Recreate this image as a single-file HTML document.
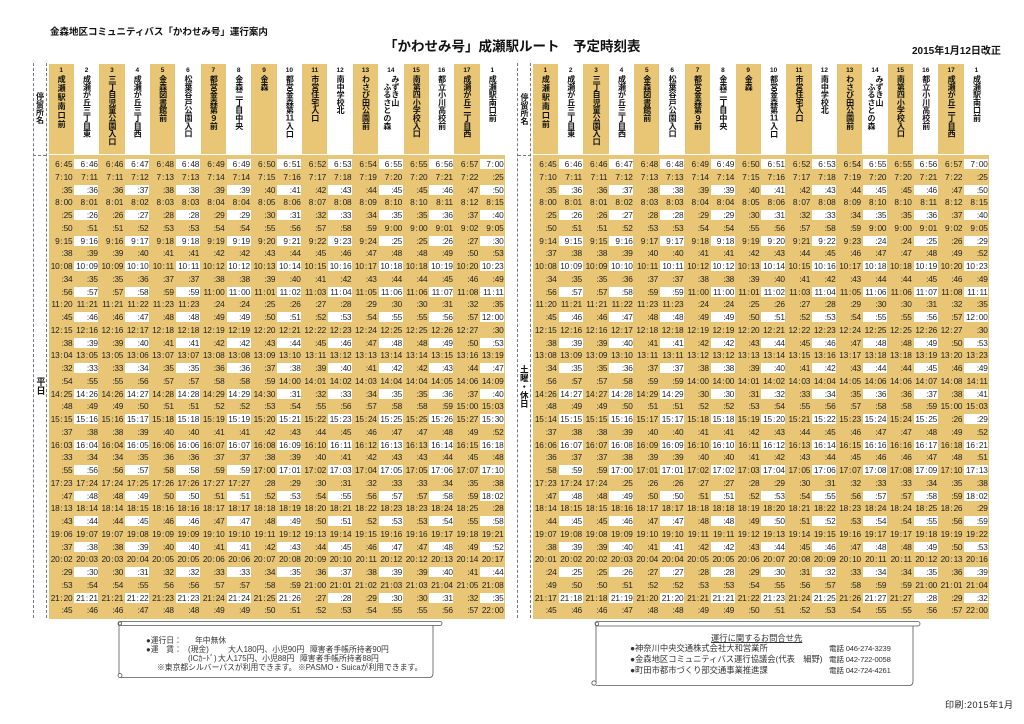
<!DOCTYPE html>
<html><head><meta charset="utf-8">
<style>
*{margin:0;padding:0;box-sizing:border-box}
html,body{width:1024px;height:724px;overflow:hidden;background:#fff}
body{position:relative;font-family:"Liberation Sans","Noto Sans CJK JP",sans-serif;color:#111}
.a{position:absolute;white-space:nowrap;line-height:1}
.h{position:absolute;top:64px;height:90px;width:456.5px;display:flex}
.h div{width:25.36px;flex:none;height:90px;display:flex;flex-direction:column;align-items:center}
.h div:nth-child(odd){background:#E8C676}
.h em{font-style:normal;font-weight:bold;font-size:6.5px;line-height:7px;margin-top:2.5px}
.h b{writing-mode:vertical-rl;font-size:8px;line-height:8px;letter-spacing:-.2px;margin-top:1.5px;white-space:nowrap}
.h .w{letter-spacing:1px}
.tcy{text-combine-upright:all}
.t{position:absolute;top:155px;height:463.5px;width:456.5px;background:#E8C676;padding-top:3px}
.t p{display:flex;height:12.76px}
.t i{font-style:normal;width:25.36px;flex:none;text-align:right;padding-right:1.5px;font-size:8.3px;line-height:12.76px;letter-spacing:-.25px;word-spacing:-1px;color:#222;white-space:nowrap}
.t p:nth-child(odd) i:nth-child(even){background:linear-gradient(#fff,#fff) center/24.4px 10.2px no-repeat}
.lab{position:absolute;top:63px;height:555px;border-left:1px dashed #777;border-right:1px dashed #777}
.v{position:absolute;writing-mode:vertical-rl;font-weight:bold;line-height:1;white-space:nowrap}
.n{font-size:7.8px;color:#333}
.r{font-size:8.3px;color:#333}
.ph{font-size:7.6px;color:#333;letter-spacing:-.2px}
</style></head><body>

<div class="a" style="left:50px;top:27.5px;font-size:9.5px;font-weight:bold">金森地区コミュニティバス「かわせみ号」運行案内</div>
<div class="a" style="left:384px;top:40px;font-size:13.5px;font-weight:bold">「かわせみ号」成瀬駅ルート　予定時刻表</div>
<div class="a" style="left:912px;top:47px;font-size:10px;font-weight:bold">2015年1月12日改正</div>

<!-- label columns -->
<div class="lab" style="left:32.5px;width:14px"></div>
<div class="a" style="left:33px;top:155px;width:13px;border-top:1px dashed #777"></div>
<div class="v" style="left:35.5px;top:92px;font-size:8px">停留所名</div>
<div class="v" style="left:35.5px;top:377px;font-size:9px">平日</div>

<div class="lab" style="left:517px;width:14px"></div>
<div class="a" style="left:517.5px;top:155px;width:13px;border-top:1px dashed #777"></div>
<div class="v" style="left:520px;top:93px;font-size:8px">停留所名</div>
<div class="v" style="left:519.7px;top:365px;font-size:8.6px">土曜・休日</div>

<!-- headers -->
<div class="h" style="left:48.5px">
<div><em>1</em><b class="w">成瀬駅南口前</b></div>
<div><em>2</em><b>成瀬が丘三丁目東</b></div>
<div><em>3</em><b>三丁目児童公園入口</b></div>
<div><em>4</em><b>成瀬が丘三丁目西</b></div>
<div><em>5</em><b>金森図書館前</b></div>
<div><em>6</em><b>松葉谷戸公園入口</b></div>
<div><em>7</em><b>都営金森第９前</b></div>
<div><em>8</em><b>金森二丁目中央</b></div>
<div><em>9</em><b>金森</b></div>
<div><em>10</em><b>都営金森第<span class="tcy">11</span>入口</b></div>
<div><em>11</em><b>市営住宅入口</b></div>
<div><em>12</em><b>南中学校北</b></div>
<div><em>13</em><b>わさび田公園前</b></div>
<div><em>14</em><b>みずき山<br>　ふるさとの森</b></div>
<div><em>15</em><b>南第四小学校入口</b></div>
<div><em>16</em><b>都立小川高校前</b></div>
<div><em>17</em><b>成瀬が丘二丁目西</b></div>
<div><em>1</em><b>成瀬駅南口前</b></div>
</div>

<div class="h" style="left:532.7px">
<div><em>1</em><b class="w">成瀬駅南口前</b></div>
<div><em>2</em><b>成瀬が丘三丁目東</b></div>
<div><em>3</em><b>三丁目児童公園入口</b></div>
<div><em>4</em><b>成瀬が丘三丁目西</b></div>
<div><em>5</em><b>金森図書館前</b></div>
<div><em>6</em><b>松葉谷戸公園入口</b></div>
<div><em>7</em><b>都営金森第９前</b></div>
<div><em>8</em><b>金森二丁目中央</b></div>
<div><em>9</em><b>金森</b></div>
<div><em>10</em><b>都営金森第<span class="tcy">11</span>入口</b></div>
<div><em>11</em><b>市営住宅入口</b></div>
<div><em>12</em><b>南中学校北</b></div>
<div><em>13</em><b>わさび田公園前</b></div>
<div><em>14</em><b>みずき山<br>　ふるさとの森</b></div>
<div><em>15</em><b>南第四小学校入口</b></div>
<div><em>16</em><b>都立小川高校前</b></div>
<div><em>17</em><b>成瀬が丘二丁目西</b></div>
<div><em>1</em><b>成瀬駅南口前</b></div>
</div>

<!-- weekday table -->
<div class="t" style="left:48.5px">
<p><i>6 : 45</i><i>6 : 46</i><i>6 : 46</i><i>6 : 47</i><i>6 : 48</i><i>6 : 48</i><i>6 : 49</i><i>6 : 49</i><i>6 : 50</i><i>6 : 51</i><i>6 : 52</i><i>6 : 53</i><i>6 : 54</i><i>6 : 55</i><i>6 : 55</i><i>6 : 56</i><i>6 : 57</i><i>7 : 00</i></p>
<p><i>7 : 10</i><i>7 : 11</i><i>7 : 11</i><i>7 : 12</i><i>7 : 13</i><i>7 : 13</i><i>7 : 14</i><i>7 : 14</i><i>7 : 15</i><i>7 : 16</i><i>7 : 17</i><i>7 : 18</i><i>7 : 19</i><i>7 : 20</i><i>7 : 20</i><i>7 : 21</i><i>7 : 22</i><i>:25</i></p>
<p><i>:35</i><i>:36</i><i>:36</i><i>:37</i><i>:38</i><i>:38</i><i>:39</i><i>:39</i><i>:40</i><i>:41</i><i>:42</i><i>:43</i><i>:44</i><i>:45</i><i>:45</i><i>:46</i><i>:47</i><i>:50</i></p>
<p><i>8 : 00</i><i>8 : 01</i><i>8 : 01</i><i>8 : 02</i><i>8 : 03</i><i>8 : 03</i><i>8 : 04</i><i>8 : 04</i><i>8 : 05</i><i>8 : 06</i><i>8 : 07</i><i>8 : 08</i><i>8 : 09</i><i>8 : 10</i><i>8 : 10</i><i>8 : 11</i><i>8 : 12</i><i>8 : 15</i></p>
<p><i>:25</i><i>:26</i><i>:26</i><i>:27</i><i>:28</i><i>:28</i><i>:29</i><i>:29</i><i>:30</i><i>:31</i><i>:32</i><i>:33</i><i>:34</i><i>:35</i><i>:35</i><i>:36</i><i>:37</i><i>:40</i></p>
<p><i>:50</i><i>:51</i><i>:51</i><i>:52</i><i>:53</i><i>:53</i><i>:54</i><i>:54</i><i>:55</i><i>:56</i><i>:57</i><i>:58</i><i>:59</i><i>9 : 00</i><i>9 : 00</i><i>9 : 01</i><i>9 : 02</i><i>9 : 05</i></p>
<p><i>9 : 15</i><i>9 : 16</i><i>9 : 16</i><i>9 : 17</i><i>9 : 18</i><i>9 : 18</i><i>9 : 19</i><i>9 : 19</i><i>9 : 20</i><i>9 : 21</i><i>9 : 22</i><i>9 : 23</i><i>9 : 24</i><i>:25</i><i>:25</i><i>:26</i><i>:27</i><i>:30</i></p>
<p><i>:38</i><i>:39</i><i>:39</i><i>:40</i><i>:41</i><i>:41</i><i>:42</i><i>:42</i><i>:43</i><i>:44</i><i>:45</i><i>:46</i><i>:47</i><i>:48</i><i>:48</i><i>:49</i><i>:50</i><i>:53</i></p>
<p><i>10 : 08</i><i>10 : 09</i><i>10 : 09</i><i>10 : 10</i><i>10 : 11</i><i>10 : 11</i><i>10 : 12</i><i>10 : 12</i><i>10 : 13</i><i>10 : 14</i><i>10 : 15</i><i>10 : 16</i><i>10 : 17</i><i>10 : 18</i><i>10 : 18</i><i>10 : 19</i><i>10 : 20</i><i>10 : 23</i></p>
<p><i>:34</i><i>:35</i><i>:35</i><i>:36</i><i>:37</i><i>:37</i><i>:38</i><i>:38</i><i>:39</i><i>:40</i><i>:41</i><i>:42</i><i>:43</i><i>:44</i><i>:44</i><i>:45</i><i>:46</i><i>:49</i></p>
<p><i>:56</i><i>:57</i><i>:57</i><i>:58</i><i>:59</i><i>:59</i><i>11 : 00</i><i>11 : 00</i><i>11 : 01</i><i>11 : 02</i><i>11 : 03</i><i>11 : 04</i><i>11 : 05</i><i>11 : 06</i><i>11 : 06</i><i>11 : 07</i><i>11 : 08</i><i>11 : 11</i></p>
<p><i>11 : 20</i><i>11 : 21</i><i>11 : 21</i><i>11 : 22</i><i>11 : 23</i><i>11 : 23</i><i>:24</i><i>:24</i><i>:25</i><i>:26</i><i>:27</i><i>:28</i><i>:29</i><i>:30</i><i>:30</i><i>:31</i><i>:32</i><i>:35</i></p>
<p><i>:45</i><i>:46</i><i>:46</i><i>:47</i><i>:48</i><i>:48</i><i>:49</i><i>:49</i><i>:50</i><i>:51</i><i>:52</i><i>:53</i><i>:54</i><i>:55</i><i>:55</i><i>:56</i><i>:57</i><i>12 : 00</i></p>
<p><i>12 : 15</i><i>12 : 16</i><i>12 : 16</i><i>12 : 17</i><i>12 : 18</i><i>12 : 18</i><i>12 : 19</i><i>12 : 19</i><i>12 : 20</i><i>12 : 21</i><i>12 : 22</i><i>12 : 23</i><i>12 : 24</i><i>12 : 25</i><i>12 : 25</i><i>12 : 26</i><i>12 : 27</i><i>:30</i></p>
<p><i>:38</i><i>:39</i><i>:39</i><i>:40</i><i>:41</i><i>:41</i><i>:42</i><i>:42</i><i>:43</i><i>:44</i><i>:45</i><i>:46</i><i>:47</i><i>:48</i><i>:48</i><i>:49</i><i>:50</i><i>:53</i></p>
<p><i>13 : 04</i><i>13 : 05</i><i>13 : 05</i><i>13 : 06</i><i>13 : 07</i><i>13 : 07</i><i>13 : 08</i><i>13 : 08</i><i>13 : 09</i><i>13 : 10</i><i>13 : 11</i><i>13 : 12</i><i>13 : 13</i><i>13 : 14</i><i>13 : 14</i><i>13 : 15</i><i>13 : 16</i><i>13 : 19</i></p>
<p><i>:32</i><i>:33</i><i>:33</i><i>:34</i><i>:35</i><i>:35</i><i>:36</i><i>:36</i><i>:37</i><i>:38</i><i>:39</i><i>:40</i><i>:41</i><i>:42</i><i>:42</i><i>:43</i><i>:44</i><i>:47</i></p>
<p><i>:54</i><i>:55</i><i>:55</i><i>:56</i><i>:57</i><i>:57</i><i>:58</i><i>:58</i><i>:59</i><i>14 : 00</i><i>14 : 01</i><i>14 : 02</i><i>14 : 03</i><i>14 : 04</i><i>14 : 04</i><i>14 : 05</i><i>14 : 06</i><i>14 : 09</i></p>
<p><i>14 : 25</i><i>14 : 26</i><i>14 : 26</i><i>14 : 27</i><i>14 : 28</i><i>14 : 28</i><i>14 : 29</i><i>14 : 29</i><i>14 : 30</i><i>:31</i><i>:32</i><i>:33</i><i>:34</i><i>:35</i><i>:35</i><i>:36</i><i>:37</i><i>:40</i></p>
<p><i>:48</i><i>:49</i><i>:49</i><i>:50</i><i>:51</i><i>:51</i><i>:52</i><i>:52</i><i>:53</i><i>:54</i><i>:55</i><i>:56</i><i>:57</i><i>:58</i><i>:58</i><i>:59</i><i>15 : 00</i><i>15 : 03</i></p>
<p><i>15 : 15</i><i>15 : 16</i><i>15 : 16</i><i>15 : 17</i><i>15 : 18</i><i>15 : 18</i><i>15 : 19</i><i>15 : 19</i><i>15 : 20</i><i>15 : 21</i><i>15 : 22</i><i>15 : 23</i><i>15 : 24</i><i>15 : 25</i><i>15 : 25</i><i>15 : 26</i><i>15 : 27</i><i>15 : 30</i></p>
<p><i>:37</i><i>:38</i><i>:38</i><i>:39</i><i>:40</i><i>:40</i><i>:41</i><i>:41</i><i>:42</i><i>:43</i><i>:44</i><i>:45</i><i>:46</i><i>:47</i><i>:47</i><i>:48</i><i>:49</i><i>:52</i></p>
<p><i>16 : 03</i><i>16 : 04</i><i>16 : 04</i><i>16 : 05</i><i>16 : 06</i><i>16 : 06</i><i>16 : 07</i><i>16 : 07</i><i>16 : 08</i><i>16 : 09</i><i>16 : 10</i><i>16 : 11</i><i>16 : 12</i><i>16 : 13</i><i>16 : 13</i><i>16 : 14</i><i>16 : 15</i><i>16 : 18</i></p>
<p><i>:33</i><i>:34</i><i>:34</i><i>:35</i><i>:36</i><i>:36</i><i>:37</i><i>:37</i><i>:38</i><i>:39</i><i>:40</i><i>:41</i><i>:42</i><i>:43</i><i>:43</i><i>:44</i><i>:45</i><i>:48</i></p>
<p><i>:55</i><i>:56</i><i>:56</i><i>:57</i><i>:58</i><i>:58</i><i>:59</i><i>:59</i><i>17 : 00</i><i>17 : 01</i><i>17 : 02</i><i>17 : 03</i><i>17 : 04</i><i>17 : 05</i><i>17 : 05</i><i>17 : 06</i><i>17 : 07</i><i>17 : 10</i></p>
<p><i>17 : 23</i><i>17 : 24</i><i>17 : 24</i><i>17 : 25</i><i>17 : 26</i><i>17 : 26</i><i>17 : 27</i><i>17 : 27</i><i>:28</i><i>:29</i><i>:30</i><i>:31</i><i>:32</i><i>:33</i><i>:33</i><i>:34</i><i>:35</i><i>:38</i></p>
<p><i>:47</i><i>:48</i><i>:48</i><i>:49</i><i>:50</i><i>:50</i><i>:51</i><i>:51</i><i>:52</i><i>:53</i><i>:54</i><i>:55</i><i>:56</i><i>:57</i><i>:57</i><i>:58</i><i>:59</i><i>18 : 02</i></p>
<p><i>18 : 13</i><i>18 : 14</i><i>18 : 14</i><i>18 : 15</i><i>18 : 16</i><i>18 : 16</i><i>18 : 17</i><i>18 : 17</i><i>18 : 18</i><i>18 : 19</i><i>18 : 20</i><i>18 : 21</i><i>18 : 22</i><i>18 : 23</i><i>18 : 23</i><i>18 : 24</i><i>18 : 25</i><i>:28</i></p>
<p><i>:43</i><i>:44</i><i>:44</i><i>:45</i><i>:46</i><i>:46</i><i>:47</i><i>:47</i><i>:48</i><i>:49</i><i>:50</i><i>:51</i><i>:52</i><i>:53</i><i>:53</i><i>:54</i><i>:55</i><i>:58</i></p>
<p><i>19 : 06</i><i>19 : 07</i><i>19 : 07</i><i>19 : 08</i><i>19 : 09</i><i>19 : 09</i><i>19 : 10</i><i>19 : 10</i><i>19 : 11</i><i>19 : 12</i><i>19 : 13</i><i>19 : 14</i><i>19 : 15</i><i>19 : 16</i><i>19 : 16</i><i>19 : 17</i><i>19 : 18</i><i>19 : 21</i></p>
<p><i>:37</i><i>:38</i><i>:38</i><i>:39</i><i>:40</i><i>:40</i><i>:41</i><i>:41</i><i>:42</i><i>:43</i><i>:44</i><i>:45</i><i>:46</i><i>:47</i><i>:47</i><i>:48</i><i>:49</i><i>:52</i></p>
<p><i>20 : 02</i><i>20 : 03</i><i>20 : 03</i><i>20 : 04</i><i>20 : 05</i><i>20 : 05</i><i>20 : 06</i><i>20 : 06</i><i>20 : 07</i><i>20 : 08</i><i>20 : 09</i><i>20 : 10</i><i>20 : 11</i><i>20 : 12</i><i>20 : 12</i><i>20 : 13</i><i>20 : 14</i><i>20 : 17</i></p>
<p><i>:29</i><i>:30</i><i>:30</i><i>:31</i><i>:32</i><i>:32</i><i>:33</i><i>:33</i><i>:34</i><i>:35</i><i>:36</i><i>:37</i><i>:38</i><i>:39</i><i>:39</i><i>:40</i><i>:41</i><i>:44</i></p>
<p><i>:53</i><i>:54</i><i>:54</i><i>:55</i><i>:56</i><i>:56</i><i>:57</i><i>:57</i><i>:58</i><i>:59</i><i>21 : 00</i><i>21 : 01</i><i>21 : 02</i><i>21 : 03</i><i>21 : 03</i><i>21 : 04</i><i>21 : 05</i><i>21 : 08</i></p>
<p><i>21 : 20</i><i>21 : 21</i><i>21 : 21</i><i>21 : 22</i><i>21 : 23</i><i>21 : 23</i><i>21 : 24</i><i>21 : 24</i><i>21 : 25</i><i>21 : 26</i><i>:27</i><i>:28</i><i>:29</i><i>:30</i><i>:30</i><i>:31</i><i>:32</i><i>:35</i></p>
<p><i>:45</i><i>:46</i><i>:46</i><i>:47</i><i>:48</i><i>:48</i><i>:49</i><i>:49</i><i>:50</i><i>:51</i><i>:52</i><i>:53</i><i>:54</i><i>:55</i><i>:55</i><i>:56</i><i>:57</i><i>22 : 00</i></p>
</div>

<!-- weekend table -->
<div class="t" style="left:532.7px">
<p><i>6 : 45</i><i>6 : 46</i><i>6 : 46</i><i>6 : 47</i><i>6 : 48</i><i>6 : 48</i><i>6 : 49</i><i>6 : 49</i><i>6 : 50</i><i>6 : 51</i><i>6 : 52</i><i>6 : 53</i><i>6 : 54</i><i>6 : 55</i><i>6 : 55</i><i>6 : 56</i><i>6 : 57</i><i>7 : 00</i></p>
<p><i>7 : 10</i><i>7 : 11</i><i>7 : 11</i><i>7 : 12</i><i>7 : 13</i><i>7 : 13</i><i>7 : 14</i><i>7 : 14</i><i>7 : 15</i><i>7 : 16</i><i>7 : 17</i><i>7 : 18</i><i>7 : 19</i><i>7 : 20</i><i>7 : 20</i><i>7 : 21</i><i>7 : 22</i><i>:25</i></p>
<p><i>:35</i><i>:36</i><i>:36</i><i>:37</i><i>:38</i><i>:38</i><i>:39</i><i>:39</i><i>:40</i><i>:41</i><i>:42</i><i>:43</i><i>:44</i><i>:45</i><i>:45</i><i>:46</i><i>:47</i><i>:50</i></p>
<p><i>8 : 00</i><i>8 : 01</i><i>8 : 01</i><i>8 : 02</i><i>8 : 03</i><i>8 : 03</i><i>8 : 04</i><i>8 : 04</i><i>8 : 05</i><i>8 : 06</i><i>8 : 07</i><i>8 : 08</i><i>8 : 09</i><i>8 : 10</i><i>8 : 10</i><i>8 : 11</i><i>8 : 12</i><i>8 : 15</i></p>
<p><i>:25</i><i>:26</i><i>:26</i><i>:27</i><i>:28</i><i>:28</i><i>:29</i><i>:29</i><i>:30</i><i>:31</i><i>:32</i><i>:33</i><i>:34</i><i>:35</i><i>:35</i><i>:36</i><i>:37</i><i>:40</i></p>
<p><i>:50</i><i>:51</i><i>:51</i><i>:52</i><i>:53</i><i>:53</i><i>:54</i><i>:54</i><i>:55</i><i>:56</i><i>:57</i><i>:58</i><i>:59</i><i>9 : 00</i><i>9 : 00</i><i>9 : 01</i><i>9 : 02</i><i>9 : 05</i></p>
<p><i>9 : 14</i><i>9 : 15</i><i>9 : 15</i><i>9 : 16</i><i>9 : 17</i><i>9 : 17</i><i>9 : 18</i><i>9 : 18</i><i>9 : 19</i><i>9 : 20</i><i>9 : 21</i><i>9 : 22</i><i>9 : 23</i><i>:24</i><i>:24</i><i>:25</i><i>:26</i><i>:29</i></p>
<p><i>:37</i><i>:38</i><i>:38</i><i>:39</i><i>:40</i><i>:40</i><i>:41</i><i>:41</i><i>:42</i><i>:43</i><i>:44</i><i>:45</i><i>:46</i><i>:47</i><i>:47</i><i>:48</i><i>:49</i><i>:52</i></p>
<p><i>10 : 08</i><i>10 : 09</i><i>10 : 09</i><i>10 : 10</i><i>10 : 11</i><i>10 : 11</i><i>10 : 12</i><i>10 : 12</i><i>10 : 13</i><i>10 : 14</i><i>10 : 15</i><i>10 : 16</i><i>10 : 17</i><i>10 : 18</i><i>10 : 18</i><i>10 : 19</i><i>10 : 20</i><i>10 : 23</i></p>
<p><i>:34</i><i>:35</i><i>:35</i><i>:36</i><i>:37</i><i>:37</i><i>:38</i><i>:38</i><i>:39</i><i>:40</i><i>:41</i><i>:42</i><i>:43</i><i>:44</i><i>:44</i><i>:45</i><i>:46</i><i>:49</i></p>
<p><i>:56</i><i>:57</i><i>:57</i><i>:58</i><i>:59</i><i>:59</i><i>11 : 00</i><i>11 : 00</i><i>11 : 01</i><i>11 : 02</i><i>11 : 03</i><i>11 : 04</i><i>11 : 05</i><i>11 : 06</i><i>11 : 06</i><i>11 : 07</i><i>11 : 08</i><i>11 : 11</i></p>
<p><i>11 : 20</i><i>11 : 21</i><i>11 : 21</i><i>11 : 22</i><i>11 : 23</i><i>11 : 23</i><i>:24</i><i>:24</i><i>:25</i><i>:26</i><i>:27</i><i>:28</i><i>:29</i><i>:30</i><i>:30</i><i>:31</i><i>:32</i><i>:35</i></p>
<p><i>:45</i><i>:46</i><i>:46</i><i>:47</i><i>:48</i><i>:48</i><i>:49</i><i>:49</i><i>:50</i><i>:51</i><i>:52</i><i>:53</i><i>:54</i><i>:55</i><i>:55</i><i>:56</i><i>:57</i><i>12 : 00</i></p>
<p><i>12 : 15</i><i>12 : 16</i><i>12 : 16</i><i>12 : 17</i><i>12 : 18</i><i>12 : 18</i><i>12 : 19</i><i>12 : 19</i><i>12 : 20</i><i>12 : 21</i><i>12 : 22</i><i>12 : 23</i><i>12 : 24</i><i>12 : 25</i><i>12 : 25</i><i>12 : 26</i><i>12 : 27</i><i>:30</i></p>
<p><i>:38</i><i>:39</i><i>:39</i><i>:40</i><i>:41</i><i>:41</i><i>:42</i><i>:42</i><i>:43</i><i>:44</i><i>:45</i><i>:46</i><i>:47</i><i>:48</i><i>:48</i><i>:49</i><i>:50</i><i>:53</i></p>
<p><i>13 : 08</i><i>13 : 09</i><i>13 : 09</i><i>13 : 10</i><i>13 : 11</i><i>13 : 11</i><i>13 : 12</i><i>13 : 12</i><i>13 : 13</i><i>13 : 14</i><i>13 : 15</i><i>13 : 16</i><i>13 : 17</i><i>13 : 18</i><i>13 : 18</i><i>13 : 19</i><i>13 : 20</i><i>13 : 23</i></p>
<p><i>:34</i><i>:35</i><i>:35</i><i>:36</i><i>:37</i><i>:37</i><i>:38</i><i>:38</i><i>:39</i><i>:40</i><i>:41</i><i>:42</i><i>:43</i><i>:44</i><i>:44</i><i>:45</i><i>:46</i><i>:49</i></p>
<p><i>:56</i><i>:57</i><i>:57</i><i>:58</i><i>:59</i><i>:59</i><i>14 : 00</i><i>14 : 00</i><i>14 : 01</i><i>14 : 02</i><i>14 : 03</i><i>14 : 04</i><i>14 : 05</i><i>14 : 06</i><i>14 : 06</i><i>14 : 07</i><i>14 : 08</i><i>14 : 11</i></p>
<p><i>14 : 26</i><i>14 : 27</i><i>14 : 27</i><i>14 : 28</i><i>14 : 29</i><i>14 : 29</i><i>:30</i><i>:30</i><i>:31</i><i>:32</i><i>:33</i><i>:34</i><i>:35</i><i>:36</i><i>:36</i><i>:37</i><i>:38</i><i>:41</i></p>
<p><i>:48</i><i>:49</i><i>:49</i><i>:50</i><i>:51</i><i>:51</i><i>:52</i><i>:52</i><i>:53</i><i>:54</i><i>:55</i><i>:56</i><i>:57</i><i>:58</i><i>:58</i><i>:59</i><i>15 : 00</i><i>15 : 03</i></p>
<p><i>15 : 14</i><i>15 : 15</i><i>15 : 15</i><i>15 : 16</i><i>15 : 17</i><i>15 : 17</i><i>15 : 18</i><i>15 : 18</i><i>15 : 19</i><i>15 : 20</i><i>15 : 21</i><i>15 : 22</i><i>15 : 23</i><i>15 : 24</i><i>15 : 24</i><i>15 : 25</i><i>:26</i><i>:29</i></p>
<p><i>:37</i><i>:38</i><i>:38</i><i>:39</i><i>:40</i><i>:40</i><i>:41</i><i>:41</i><i>:42</i><i>:43</i><i>:44</i><i>:45</i><i>:46</i><i>:47</i><i>:47</i><i>:48</i><i>:49</i><i>:52</i></p>
<p><i>16 : 06</i><i>16 : 07</i><i>16 : 07</i><i>16 : 08</i><i>16 : 09</i><i>16 : 09</i><i>16 : 10</i><i>16 : 10</i><i>16 : 11</i><i>16 : 12</i><i>16 : 13</i><i>16 : 14</i><i>16 : 15</i><i>16 : 16</i><i>16 : 16</i><i>16 : 17</i><i>16 : 18</i><i>16 : 21</i></p>
<p><i>:36</i><i>:37</i><i>:37</i><i>:38</i><i>:39</i><i>:39</i><i>:40</i><i>:40</i><i>:41</i><i>:42</i><i>:43</i><i>:44</i><i>:45</i><i>:46</i><i>:46</i><i>:47</i><i>:48</i><i>:51</i></p>
<p><i>:58</i><i>:59</i><i>:59</i><i>17 : 00</i><i>17 : 01</i><i>17 : 01</i><i>17 : 02</i><i>17 : 02</i><i>17 : 03</i><i>17 : 04</i><i>17 : 05</i><i>17 : 06</i><i>17 : 07</i><i>17 : 08</i><i>17 : 08</i><i>17 : 09</i><i>17 : 10</i><i>17 : 13</i></p>
<p><i>17 : 23</i><i>17 : 24</i><i>17 : 24</i><i>:25</i><i>:26</i><i>:26</i><i>:27</i><i>:27</i><i>:28</i><i>:29</i><i>:30</i><i>:31</i><i>:32</i><i>:33</i><i>:33</i><i>:34</i><i>:35</i><i>:38</i></p>
<p><i>:47</i><i>:48</i><i>:48</i><i>:49</i><i>:50</i><i>:50</i><i>:51</i><i>:51</i><i>:52</i><i>:53</i><i>:54</i><i>:55</i><i>:56</i><i>:57</i><i>:57</i><i>:58</i><i>:59</i><i>18 : 02</i></p>
<p><i>18 : 14</i><i>18 : 15</i><i>18 : 15</i><i>18 : 16</i><i>18 : 17</i><i>18 : 17</i><i>18 : 18</i><i>18 : 18</i><i>18 : 19</i><i>18 : 20</i><i>18 : 21</i><i>18 : 22</i><i>18 : 23</i><i>18 : 24</i><i>18 : 24</i><i>18 : 25</i><i>18 : 26</i><i>:29</i></p>
<p><i>:44</i><i>:45</i><i>:45</i><i>:46</i><i>:47</i><i>:47</i><i>:48</i><i>:48</i><i>:49</i><i>:50</i><i>:51</i><i>:52</i><i>:53</i><i>:54</i><i>:54</i><i>:55</i><i>:56</i><i>:59</i></p>
<p><i>19 : 07</i><i>19 : 08</i><i>19 : 08</i><i>19 : 09</i><i>19 : 10</i><i>19 : 10</i><i>19 : 11</i><i>19 : 11</i><i>19 : 12</i><i>19 : 13</i><i>19 : 14</i><i>19 : 15</i><i>19 : 16</i><i>19 : 17</i><i>19 : 17</i><i>19 : 18</i><i>19 : 19</i><i>19 : 22</i></p>
<p><i>:38</i><i>:39</i><i>:39</i><i>:40</i><i>:41</i><i>:41</i><i>:42</i><i>:42</i><i>:43</i><i>:44</i><i>:45</i><i>:46</i><i>:47</i><i>:48</i><i>:48</i><i>:49</i><i>:50</i><i>:53</i></p>
<p><i>20 : 01</i><i>20 : 02</i><i>20 : 02</i><i>20 : 03</i><i>20 : 04</i><i>20 : 04</i><i>20 : 05</i><i>20 : 05</i><i>20 : 06</i><i>20 : 07</i><i>20 : 08</i><i>20 : 09</i><i>20 : 10</i><i>20 : 11</i><i>20 : 11</i><i>20 : 12</i><i>20 : 13</i><i>20 : 16</i></p>
<p><i>:24</i><i>:25</i><i>:25</i><i>:26</i><i>:27</i><i>:27</i><i>:28</i><i>:28</i><i>:29</i><i>:30</i><i>:31</i><i>:32</i><i>:33</i><i>:34</i><i>:34</i><i>:35</i><i>:36</i><i>:39</i></p>
<p><i>:49</i><i>:50</i><i>:50</i><i>:51</i><i>:52</i><i>:52</i><i>:53</i><i>:53</i><i>:54</i><i>:55</i><i>:56</i><i>:57</i><i>:58</i><i>:59</i><i>:59</i><i>21 : 00</i><i>21 : 01</i><i>21 : 04</i></p>
<p><i>21 : 17</i><i>21 : 18</i><i>21 : 18</i><i>21 : 19</i><i>21 : 20</i><i>21 : 20</i><i>21 : 21</i><i>21 : 21</i><i>21 : 22</i><i>21 : 23</i><i>21 : 24</i><i>21 : 25</i><i>21 : 26</i><i>21 : 27</i><i>21 : 27</i><i>:28</i><i>:29</i><i>:32</i></p>
<p><i>:45</i><i>:46</i><i>:46</i><i>:47</i><i>:48</i><i>:48</i><i>:49</i><i>:49</i><i>:50</i><i>:51</i><i>:52</i><i>:53</i><i>:54</i><i>:55</i><i>:55</i><i>:56</i><i>:57</i><i>22 : 00</i></p>
</div>

<!-- scroll boxes -->
<svg class="a" style="left:0;top:0" width="1024" height="724">
<g fill="#fff" stroke="#555" stroke-width=".8">
<rect x="118" y="621.5" width="324" height="4" rx="2"/>
<circle cx="120" cy="623.5" r="1.6"/>
<path d="M119 625.5V675.5M120.5 677.5H429Q433 677.5 433 673.5V625.5" fill="none"/>
<circle cx="120" cy="675.5" r="2"/>
<rect x="595" y="621.5" width="325" height="4.5" rx="2.2"/>
<circle cx="597" cy="623.8" r="1.7"/>
<path d="M596 626V683M596 685.5H909Q913 685.5 913 681.5V626" fill="none"/>
<circle cx="594" cy="683" r="2.2"/>
</g>
</svg>

<div class="a n" style="left:146px;top:637px">●運行日：</div>
<div class="a n" style="left:195px;top:637px">年中無休</div>
<div class="a n" style="left:146px;top:645.5px">●運　賃：</div>
<div class="a n" style="left:188px;top:645.5px">(現金)</div>
<div class="a n" style="left:228px;top:645.5px">大人180円、小児90円</div>
<div class="a n" style="left:310px;top:645.5px">障害者手帳所持者90円</div>
<div class="a n" style="left:188px;top:654.5px">(ICｶｰﾄﾞ)</div>
<div class="a n" style="left:218px;top:654.5px">大人175円、小児88円</div>
<div class="a n" style="left:300px;top:654.5px">障害者手帳所持者88円</div>
<div class="a n" style="left:157px;top:663.5px">※東京都シルバーパスが利用できます。</div>
<div class="a n" style="left:298px;top:663.5px">※PASMO・Suicaが利用できます。</div>

<div class="a r" style="left:711px;top:633.5px;text-decoration:underline">運行に関するお問合せ先</div>
<div class="a r" style="left:630px;top:644px">●神奈川中央交通株式会社大和営業所</div>
<div class="a ph" style="left:829px;top:644.5px">電話 046-274-3239</div>
<div class="a r" style="left:630px;top:655px">●金森地区コミュニティバス運行協議会(代表　細野)</div>
<div class="a ph" style="left:829px;top:655.5px">電話 042-722-0058</div>
<div class="a r" style="left:630px;top:666px">●町田市都市づくり部交通事業推進課</div>
<div class="a ph" style="left:829px;top:666.5px">電話 042-724-4261</div>

<div class="a" style="left:945px;top:700.5px;font-size:9px;letter-spacing:.5px;color:#222">印刷:2015年1月</div>

</body></html>
